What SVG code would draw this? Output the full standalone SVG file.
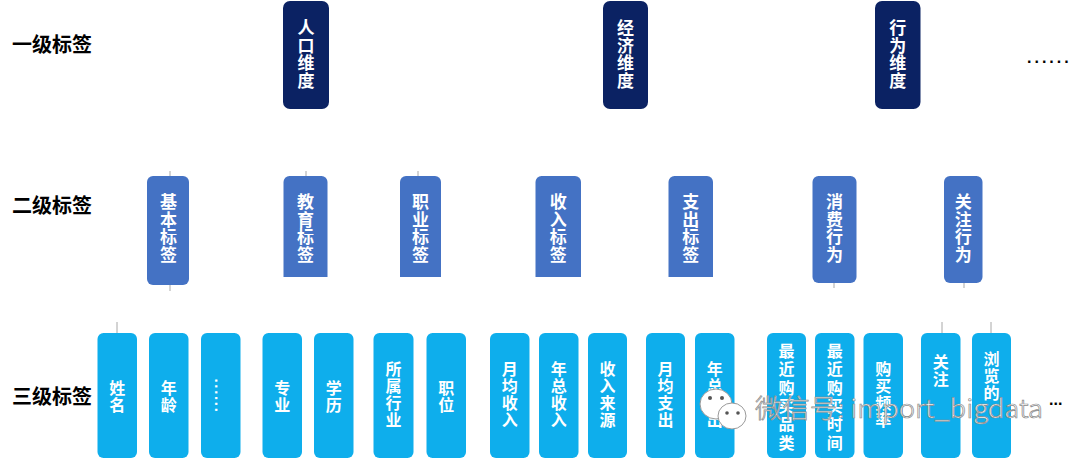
<svg xmlns="http://www.w3.org/2000/svg" width="1080" height="461" viewBox="0 0 1080 461">
<style>
.l1{fill:#0b2263}
.l2{fill:#4472c4}
.l3{fill:#0eaeec}
.tw{fill:#fff;font-family:"Noto Sans CJK SC","Noto Sans",sans-serif;font-weight:700;text-anchor:middle;writing-mode:vertical-rl}
.t1{font-size:17px;letter-spacing:0.5px}
.t3{font-size:16px;letter-spacing:1px}
.t6{font-size:16px;letter-spacing:2.3px}
.lab{fill:#000;font-family:"Noto Sans CJK SC","Noto Sans",sans-serif;font-weight:700;font-size:20px;dominant-baseline:central}
.tick{stroke:#a8a8a8;stroke-width:1}
.dots{fill:#000;font-family:"Liberation Sans",Arial,sans-serif;font-weight:700}
</style>
<rect width="1080" height="461" fill="#fff"/>

<g id="labels">
<text class="lab" x="12" y="43">一级标签</text>
<text class="lab" x="12" y="204">二级标签</text>
<text class="lab" x="12" y="395">三级标签</text>
<text class="dots" x="1027" y="63" font-size="16" letter-spacing="3">......</text>
<text class="dots" x="1049" y="405" font-size="16" font-weight="400">...</text>
</g>

<g id="connectors">
<line class="tick" x1="170" y1="171" x2="170" y2="176"/>
<line class="tick" x1="306" y1="171" x2="306" y2="176"/>
<line class="tick" x1="418" y1="171" x2="418" y2="176"/>
<line class="tick" x1="170" y1="285" x2="170" y2="291"/>
<line class="tick" x1="834" y1="283" x2="834" y2="288"/>
<line class="tick" x1="964" y1="283" x2="964" y2="288"/>
<line class="tick" x1="117" y1="322" x2="117" y2="333"/>
<line class="tick" x1="942" y1="322" x2="942" y2="333"/>
<line class="tick" x1="991" y1="322" x2="991" y2="333"/>
</g>

<!-- Level 1 -->
<g id="n-renkou">
<rect class="l1" x="283" y="1" width="46" height="108" rx="7"/>
<text class="tw t1" x="306" y="54.5">人口维度</text>
</g>
<g id="n-jingji">
<rect class="l1" x="603" y="1" width="45" height="108" rx="7"/>
<text class="tw t1" x="625.5" y="54.5">经济维度</text>
</g>
<g id="n-xingwei">
<rect class="l1" x="875" y="1" width="45.5" height="108" rx="7"/>
<text class="tw t1" x="897.7" y="54.5">行为维度</text>
</g>

<!-- Level 2 -->
<g id="n-jiben">
<rect class="l2" x="147" y="176" width="42" height="109" rx="6"/>
<text class="tw t1" x="168.5" y="228.5">基本标签</text>
</g>
<g id="n-jiaoyu">
<path class="l2" d="M283.5 182a6 6 0 0 1 6-6h32a6 6 0 0 1 6 6v95h-44z"/>
<text class="tw t1" x="305.5" y="228.5">教育标签</text>
</g>
<g id="n-zhiye">
<path class="l2" d="M400 182a6 6 0 0 1 6-6h29a6 6 0 0 1 6 6v95h-41z"/>
<text class="tw t1" x="420.5" y="228.5">职业标签</text>
</g>
<g id="n-shouru">
<path class="l2" d="M535.5 182a6 6 0 0 1 6-6h33.5a6 6 0 0 1 6 6v95h-45.5z"/>
<text class="tw t1" x="558.2" y="228.5">收入标签</text>
</g>
<g id="n-zhichu">
<path class="l2" d="M668.5 182a6 6 0 0 1 6-6h32.5a6 6 0 0 1 6 6v95h-44.5z"/>
<text class="tw t1" x="690.7" y="228.5">支出标签</text>
</g>
<g id="n-xiaofei">
<rect class="l2" x="812.5" y="176" width="44" height="107" rx="6"/>
<text class="tw t1" x="834.5" y="228.5">消费行为</text>
</g>
<g id="n-guanzhu">
<rect class="l2" x="944" y="176" width="38.5" height="107" rx="6"/>
<text class="tw t1" x="963.2" y="228.5">关注行为</text>
</g>

<!-- Level 3 -->
<g id="n-xingming">
<rect class="l3" x="97.5" y="333" width="39.5" height="125" rx="6"/>
<text class="tw t3" x="117.2" y="397">姓名</text>
</g>
<g id="n-nianling">
<rect class="l3" x="149" y="333" width="39.5" height="125" rx="6"/>
<text class="tw t3" x="168.7" y="397">年龄</text>
</g>
<g id="n-more1">
<rect class="l3" x="201" y="333" width="39.5" height="125" rx="6"/>
<text fill="#fff" font-family="Liberation Sans, Arial, sans-serif" font-weight="700" font-size="15" letter-spacing="1.7" text-anchor="middle" transform="rotate(90 214.5 396)" x="214.5" y="396">......</text>
</g>
<g id="n-zhuanye">
<rect class="l3" x="262.5" y="333" width="39.5" height="125" rx="6"/>
<text class="tw t3" x="282.2" y="397">专业</text>
</g>
<g id="n-xueli">
<rect class="l3" x="314" y="333" width="39.5" height="125" rx="6"/>
<text class="tw t3" x="333.7" y="397">学历</text>
</g>
<g id="n-suoshu">
<rect class="l3" x="373.5" y="333" width="40" height="125" rx="6"/>
<text class="tw t3" x="393.5" y="395">所属行业</text>
</g>
<g id="n-zhiwei">
<rect class="l3" x="426.5" y="333" width="39.5" height="125" rx="6"/>
<text class="tw t3" x="446.2" y="397">职位</text>
</g>
<g id="n-yuejunshouru">
<rect class="l3" x="490" y="333" width="39.5" height="125" rx="6"/>
<text class="tw t3" x="509.7" y="395">月均收入</text>
</g>
<g id="n-nianzongshouru">
<rect class="l3" x="539" y="333" width="39.5" height="125" rx="6"/>
<text class="tw t3" x="558.7" y="395">年总收入</text>
</g>
<g id="n-shourulaiyuan">
<rect class="l3" x="588" y="333" width="39" height="125" rx="6"/>
<text class="tw t3" x="607.5" y="395">收入来源</text>
</g>
<g id="n-yuejunzhichu">
<rect class="l3" x="646" y="333" width="39" height="125" rx="6"/>
<text class="tw t3" x="665.5" y="395">月均支出</text>
</g>
<g id="n-nianzongzhichu">
<rect class="l3" x="695" y="333" width="39.5" height="125" rx="6"/>
<text class="tw t3" x="714.7" y="395">年总支出</text>
</g>
<g id="n-zuijinpinlei">
<rect class="l3" x="767" y="333" width="39" height="125" rx="6"/>
<text class="tw t6" x="786.5" y="398">最近购买品类</text>
</g>
<g id="n-zuijinshijian">
<rect class="l3" x="815" y="333" width="39.5" height="125" rx="6"/>
<text class="tw t6" x="834.7" y="398">最近购买时间</text>
</g>
<g id="n-goumaipinlv">
<rect class="l3" x="863.5" y="333" width="39.5" height="125" rx="6"/>
<text class="tw t3" x="883.2" y="395">购买频率</text>
</g>
<g id="n-guanzhu3">
<rect class="l3" x="921" y="333" width="39.5" height="125" rx="6"/>
<text class="tw t3" x="940.7" y="371">关注</text>
</g>
<g id="n-liulan">
<rect class="l3" x="972" y="333" width="39" height="125" rx="6"/>
<text class="tw t3" x="991.5" y="376.5">浏览的</text>
</g>

<g id="watermark">
<ellipse cx="716" cy="404" rx="16" ry="15" fill="#fff" stroke="#9a9a9a" stroke-width="1"/>
<ellipse cx="732" cy="416" rx="14" ry="13" fill="#fff" stroke="#9a9a9a" stroke-width="1"/>
<circle cx="710" cy="398" r="2" fill="#555"/>
<circle cx="722" cy="398" r="2" fill="#555"/>
<circle cx="727" cy="413" r="1.8" fill="#555"/>
<circle cx="738" cy="413" r="1.8" fill="#555"/>
<text x="755" y="418" font-family="Noto Sans CJK SC, Noto Sans, sans-serif" font-weight="300" font-size="26" fill="#fff" stroke="#8a8a8a" stroke-width="0.7" textLength="288" lengthAdjust="spacingAndGlyphs">微信号: import_bigdata</text>
</g>
</svg>
